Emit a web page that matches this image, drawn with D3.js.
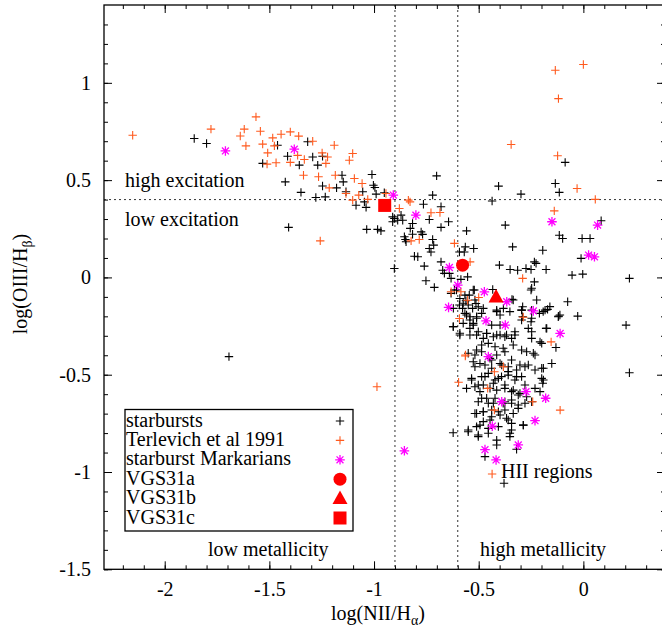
<!DOCTYPE html>
<html>
<head>
<meta charset="utf-8">
<script src="https://cdn.jsdelivr.net/npm/d3@7"></script>
<style>
  body { margin: 0; background: #fff; }
  svg { display: block; }
</style>
</head>
<body>
<svg width="662" height="632"></svg>
<script>
// tick values
const xTicks = [-2, -1.5, -1, -0.5, 0];
const yTicks = [-1.5, -1, -0.5, 0, 0.5, 1];
const xMinor = d3.range(-22, 4).map(d => d / 10);
const yMinor = d3.range(-15, 14).map(d => d / 10);

// dividing lines
const nLimits = [-0.9, -0.6];
const oLimits = [0.4];

// starbursts [log(NII/Ha), log(OIII/Hb)]
const starbursts = [
  [-1.859,0.714],[-1.800,0.688],[-1.461,0.679],[-1.317,0.697],[-1.413,0.623],[-1.532,0.586],[-1.357,0.577],
  [-1.293,0.619],[-1.246,0.623],[-1.269,0.577],[-1.424,0.491],[-1.349,0.437],[-1.246,0.470],[-1.278,0.411],
  [-1.233,0.414],[-1.179,0.460],[-1.153,0.525],[-1.147,0.491],[-1.134,0.440],[-1.054,0.440],[-1.010,0.529],
  [-1.003,0.474],[-0.990,0.428],[-1.086,0.371],[-1.046,0.388],[-1.038,0.360],[-1.408,0.257],[-1.035,0.247],
  [-0.983,0.247],[-0.967,0.239],[-0.996,0.462],[-0.951,0.435],[-0.911,0.311],[-0.855,0.209],[-0.847,0.183],
  [-1.693,-0.407],
  [-0.720,0.423],[-0.405,0.469],[-0.298,0.428],[-0.436,0.393],[-0.764,0.376],[-0.680,0.363],[-0.903,0.303],
  [-0.887,0.294],[-0.911,0.286],[-0.871,0.320],[-0.863,0.294],[-0.736,0.298],[-0.644,0.286],[-0.816,0.277],
  [-0.827,0.252],[-0.816,0.222],[-0.775,0.234],[-0.680,0.257],[-0.373,0.269],[-0.558,0.239],[-0.850,0.195],
  [-0.768,0.221],[-0.720,0.195],[-0.715,0.166],[-0.564,0.157],[-0.569,0.131],[-0.524,0.149],[-0.338,0.157],
  [-0.736,0.149],[-0.728,0.131],[-0.807,0.109],[-0.791,0.106],[-0.592,0.131],[-0.903,0.046],[-0.760,0.058],
  [-0.680,0.080],[-0.672,0.037],[-0.664,0.021],[-0.632,-0.005],[-0.640,0.021],[-0.401,0.063],[-0.350,0.041],
  [-0.314,0.037],[-0.274,0.046],[-0.553,0.003],[-0.585,-0.010],[-0.752,-0.017],[-0.712,-0.051],[-0.616,-0.065],
  [-0.632,-0.082],[-0.521,-0.065],[-0.545,-0.091],[-0.561,-0.120],[-0.433,-0.062],[-0.592,-0.142],[-0.577,-0.159],
  [-0.513,-0.134],[-0.529,-0.159],[-0.290,-0.151],[-0.341,-0.113],[-0.701,0.522],
  [-0.194,0.140],[-0.234,0.080],[-0.226,0.072],[-0.115,0.217],[-0.099,0.200],[-0.006,0.200],[0.032,0.200],
  [-0.011,0.098],[-0.178,0.041],[-0.250,0.041],[-0.054,0.012],[-0.003,0.017],[-0.234,-0.023],[0.220,-0.005],
  [-0.250,-0.065],[-0.075,-0.125],[-0.027,-0.199],[-0.118,-0.199],[-0.290,-0.202],[-0.171,-0.164],[-0.210,-0.185],
  [-0.250,-0.228],[0.204,-0.245],[-0.178,-0.262],[-0.131,-0.360],[-0.194,-0.544],[0.220,-0.490],[-0.087,0.591],
  [-0.134,0.483],[-0.115,0.437],[0.085,0.291],
  [-0.542,-0.219],[-0.526,-0.236],[-0.510,-0.202],[-0.502,-0.151],[-0.558,-0.193],[-0.414,-0.168],[-0.398,-0.193],
  [-0.351,-0.176],[-0.295,-0.168],[-0.247,-0.168],[-0.192,-0.176],[-0.112,-0.193],[-0.622,-0.253],[-0.622,-0.798],
  [-0.470,-0.921],[-0.379,-1.058],[-0.319,-0.883],
  [-0.590,-0.287],[-0.542,-0.296],[-0.502,-0.279],[-0.462,-0.287],[-0.414,-0.296],[-0.375,-0.305],[-0.327,-0.296],
  [-0.247,-0.279],[-0.199,-0.339],[-0.151,-0.442],[-0.550,-0.390],[-0.510,-0.373],[-0.486,-0.347],[-0.454,-0.339],
  [-0.422,-0.356],[-0.383,-0.364],[-0.335,-0.347],[-0.295,-0.373],[-0.239,-0.390],[-0.526,-0.433],[-0.494,-0.442],
  [-0.438,-0.424],[-0.398,-0.442],[-0.359,-0.459],[-0.319,-0.476],[-0.279,-0.459],[-0.231,-0.476],[-0.191,-0.467],
  [-0.534,-0.527],[-0.486,-0.510],[-0.454,-0.493],[-0.422,-0.527],[-0.391,-0.510],[-0.359,-0.502],[-0.327,-0.527],
  [-0.295,-0.510],[-0.191,-0.527],[-0.558,-0.570],[-0.518,-0.562],[-0.478,-0.553],[-0.446,-0.570],[-0.414,-0.579],
  [-0.375,-0.570],[-0.335,-0.579],[-0.303,-0.596],[-0.271,-0.613],[-0.207,-0.587],[-0.502,-0.639],[-0.462,-0.621],
  [-0.430,-0.647],[-0.383,-0.647],[-0.343,-0.630],[-0.311,-0.656],[-0.279,-0.647],[-0.518,-0.699],[-0.478,-0.690],
  [-0.438,-0.681],[-0.398,-0.707],[-0.375,-0.681],[-0.335,-0.699],[-0.287,-0.759],[-0.550,-0.784],[-0.510,-0.767],
  [-0.478,-0.741],[-0.446,-0.733],[-0.406,-0.767],[-0.359,-0.733],[-0.343,-0.784],[-0.502,-0.818],[-0.454,-0.801],
  [-0.414,-0.836],[-0.414,-0.861],[-0.351,-0.818],
  [-0.606,-0.065],[-0.566,-0.091],[-0.526,-0.065],[-0.518,-0.116],[-0.574,-0.133],[-0.590,-0.108],[-0.550,-0.142],
  [-0.621,-0.159],[-0.566,-0.185],[-0.542,-0.202],[-0.510,-0.210],[-0.486,-0.185],[-0.478,-0.159],[-0.414,-0.176],
  [-0.382,-0.159],[-0.335,-0.116],[-0.295,-0.168],[-0.247,-0.056],[-0.223,-0.116],[-0.183,-0.168],[-0.160,-0.150],
  [-0.120,-0.202],[-0.247,-0.210],[-0.295,-0.219],[-0.263,-0.262],[-0.175,-0.262],[-0.247,-0.313],[-0.207,-0.331],
  [-0.327,-0.279],[-0.343,-0.313],[-0.367,-0.296],[-0.398,-0.296],[-0.430,-0.305],[-0.462,-0.288],[-0.478,-0.313],
  [-0.510,-0.296],[-0.542,-0.262],[-0.574,-0.236],[-0.590,-0.296],[-0.621,-0.253],[-0.438,-0.245],[-0.398,-0.245],
  [-0.526,-0.245],
  [-0.518,-0.399],[-0.486,-0.382],[-0.446,-0.416],[-0.414,-0.399],[-0.375,-0.382],[-0.343,-0.424],[-0.303,-0.450],
  [-0.271,-0.382],[-0.231,-0.399],[-0.199,-0.467],[-0.534,-0.519],[-0.502,-0.553],[-0.470,-0.510],[-0.430,-0.544],
  [-0.406,-0.519],[-0.375,-0.553],[-0.343,-0.587],[-0.311,-0.604],[-0.247,-0.639],[-0.199,-0.519],[-0.486,-0.621],
  [-0.454,-0.647],[-0.422,-0.621],[-0.375,-0.639],[-0.343,-0.647],[-0.311,-0.673],[-0.478,-0.690],[-0.438,-0.716],
  [-0.406,-0.690],[-0.367,-0.724],[-0.343,-0.750],[-0.510,-0.699],[-0.494,-0.759],[-0.454,-0.776],[-0.550,-0.793],
  [-0.502,-0.810],[-0.351,-0.801],[-0.287,-0.759],[-0.263,-0.450],[-0.359,-0.484],[-0.438,-0.467],[-0.470,-0.450],
  [-0.390,-0.450],[-0.319,-0.510],[-0.279,-0.553],[-0.231,-0.570],[-0.518,-0.459],[-0.494,-0.587]
];

// Terlevich et al 1991
const terlevich = [
  [-2.153,0.731],[-1.564,0.825],[-1.779,0.762],[-1.620,0.762],[-1.639,0.727],[-1.543,0.751],[-1.612,0.676],
  [-1.532,0.685],[-1.484,0.717],[-1.444,0.736],[-1.400,0.748],[-1.360,0.726],[-1.508,0.640],[-1.476,0.676],
  [-1.511,0.582],[-1.468,0.589],[-1.400,0.591],[-1.365,0.627],[-1.333,0.606],[-1.293,0.700],[-1.337,0.525],
  [-1.265,0.517],[-1.248,0.640],[-1.222,0.619],[-1.230,0.586],[-1.190,0.679],[-1.185,0.525],[-1.118,0.602],
  [-1.102,0.637],[-1.094,0.508],[-1.214,0.460],[-1.134,0.431],[-1.057,0.483],[-1.102,0.397],[-1.073,0.423],
  [-1.030,0.401],[-0.943,0.431],[-1.257,0.188],
  [-0.134,1.065],[0.000,1.094],[-0.119,0.919],[-0.345,0.683],[-0.123,0.625],[-0.030,0.457],[0.057,0.401],
  [-0.139,0.342],
  [-0.879,0.354],[-0.836,0.397],[-0.828,0.388],[-0.728,0.332],[-0.685,0.334],[-0.823,0.188],[-0.784,0.195],
  [-0.616,0.175],[-0.541,0.080],[-0.290,-0.005],[-0.632,-0.074],[-0.585,-0.074],[-0.553,-0.117],[-0.500,-0.103],
  [-0.592,-0.211],[-0.564,-0.404],[-0.596,-0.539],[-0.154,-0.331],[-0.111,-0.682],[-0.242,-0.639],[-0.287,-0.205],
  [-0.382,-0.459],[-0.425,-0.485],[-0.457,-0.570],[-0.425,-0.682],[-0.436,-1.010],[-0.986,-0.562],[-0.563,-0.399]
];

// starburst Markarians
const markarians = [
  [-1.710,0.650],[-1.381,0.659],[-0.908,0.423],[-0.800,0.320],[-0.640,0.051],[-0.600,-0.040],[-0.473,-0.074],
  [-0.366,-0.125],[-0.644,-0.154],[-0.150,0.286],[0.068,0.269],[0.025,0.115],[0.053,0.106],[-0.239,-0.172],
  [-0.111,-0.288],[-0.373,-0.245],[-0.465,-0.223],[-0.454,-0.407],[-0.274,-0.587],[-0.390,-0.639],[-0.180,-0.621],
  [-0.231,-0.736],[-0.435,-0.764],[-0.311,-0.861],[-0.470,-0.885],[-0.417,-0.938],[-0.855,-0.891]
];

// VGS31 components
const vgsNames = ['VGS31a', 'VGS31b', 'VGS31c'];
const vgsPoints = [[-0.577, 0.063], [-0.417, -0.100], [-0.949, 0.370]];

const BLACK = '#000', ORANGE = '#ff5a1e', MAGENTA = '#ff00ff', RED = '#ff0000';
const FONT = '"Liberation Serif", "Times New Roman", serif';

const svg = d3.select('svg');
const L = 104, R = 665, T = 5, B = 569.3;

const x = d3.scaleLinear().domain([-2.29, 0.39]).range([L, R]);
const y = d3.scaleLinear().domain([-1.5, 1.4]).range([B, T]);

function tidy(g) {
    g.select('.domain').remove();
    g.selectAll('line').attr('stroke', BLACK).attr('stroke-width', 1);
    g.selectAll('text').attr('font-family', FONT).attr('font-size', 20).attr('fill', BLACK);
}

// Оси: основные и мелкие засечки со всех четырёх сторон
svg.append('g').attr('transform', `translate(0,${B})`)
    .call(d3.axisBottom(x).tickValues(xTicks).tickSize(-8).tickPadding(13).tickFormat(d => String(d))).call(tidy);
svg.append('g').attr('transform', `translate(0,${B})`)
    .call(d3.axisBottom(x).tickValues(xMinor).tickSize(-4).tickFormat('')).call(tidy);
svg.append('g').attr('transform', `translate(0,${T})`)
    .call(d3.axisTop(x).tickValues(xTicks).tickSize(-8).tickFormat('')).call(tidy);
svg.append('g').attr('transform', `translate(0,${T})`)
    .call(d3.axisTop(x).tickValues(xMinor).tickSize(-4).tickFormat('')).call(tidy);

svg.append('g').attr('transform', `translate(${L},0)`)
    .call(d3.axisLeft(y).tickValues(yTicks).tickSize(-8).tickPadding(13).tickFormat(d => String(d))).call(tidy);
svg.append('g').attr('transform', `translate(${L},0)`)
    .call(d3.axisLeft(y).tickValues(yMinor).tickSize(-4).tickFormat('')).call(tidy);
svg.append('g').attr('transform', `translate(${R},0)`)
    .call(d3.axisRight(y).tickValues(yTicks).tickSize(-8).tickFormat('')).call(tidy);
svg.append('g').attr('transform', `translate(${R},0)`)
    .call(d3.axisRight(y).tickValues(yMinor).tickSize(-4).tickFormat('')).call(tidy);

// Пунктирные границы
svg.selectAll('.vlim').data(nLimits).enter().append('line')
    .attr('x1', d => x(d)).attr('x2', d => x(d)).attr('y1', T).attr('y2', B)
    .attr('stroke', '#333').attr('stroke-width', 1).attr('stroke-dasharray', '2,3');
svg.selectAll('.hlim').data(oLimits).enter().append('line')
    .attr('x1', L).attr('x2', R).attr('y1', d => y(d)).attr('y2', d => y(d))
    .attr('stroke', '#333').attr('stroke-width', 1).attr('stroke-dasharray', '2,3');

// Маркеры
const plusPath = s => `M${-s},0H${s}M0,${-s}V${s}`;
const starPath = s => {
    const d = s * 0.72;
    return `M${-s},0H${s}M0,${-s}V${s}M${-d},${-d}L${d},${d}M${-d},${d}L${d},${-d}`;
};

function drawMarks(data, path, color, width) {
    svg.append('g').selectAll('path').data(data).enter().append('path')
        .attr('transform', d => `translate(${x(d[0])},${y(d[1])})`)
        .attr('d', path)
        .attr('fill', 'none')
        .attr('stroke', color)
        .attr('stroke-width', width);
}

drawMarks(starbursts, plusPath(4.2), BLACK, 1.1);
drawMarks(terlevich, plusPath(4.2), ORANGE, 1.1);
drawMarks(markarians, starPath(4.8), MAGENTA, 1.3);

const vgsSymbols = [
    g => g.append('circle').attr('r', 6.5),
    g => g.append('path').attr('d', 'M0,-8L7.5,5.5L-7.5,5.5Z'),
    g => g.append('rect').attr('x', -6.5).attr('y', -6.5).attr('width', 13).attr('height', 13)
];

vgsPoints.forEach((p, i) => {
    const g = svg.append('g').attr('transform', `translate(${x(p[0])},${y(p[1])})`).attr('fill', RED);
    vgsSymbols[i](g);
});

// Рамка
svg.append('rect').attr('x', L).attr('y', T).attr('width', R - L).attr('height', B - T)
    .attr('fill', 'none').attr('stroke', BLACK).attr('stroke-width', 1.3);

// Надписи
const notes = [
    [125, 187, 'high excitation'], [125, 226, 'low excitation'],
    [208, 556, 'low metallicity'], [480, 556, 'high metallicity'], [501, 478, 'HII regions']
];
notes.forEach(n => {
    svg.append('text').attr('x', n[0]).attr('y', n[1]).text(n[2])
        .attr('font-family', FONT).attr('font-size', 20).attr('fill', BLACK);
});

// Подписи осей
const xl = svg.append('text').attr('x', 378).attr('y', 620).attr('text-anchor', 'middle')
    .attr('font-family', FONT).attr('font-size', 20);
xl.append('tspan').text('log(NII/H');
xl.append('tspan').text('α').attr('font-size', 14).attr('dy', 5);
xl.append('tspan').text(')').attr('dy', -5);

const yl = svg.append('text').attr('transform', 'translate(27,284) rotate(-90)').attr('text-anchor', 'middle')
    .attr('font-family', FONT).attr('font-size', 20);
yl.append('tspan').text('log(OIII/H');
yl.append('tspan').text('β').attr('font-size', 14).attr('dy', 5);
yl.append('tspan').text(')').attr('dy', -5);

// Легенда
const legendNames = ['starbursts', 'Terlevich et al 1991', 'starburst Markarians'].concat(vgsNames);
const leg = svg.append('g');
leg.append('rect').attr('x', 125).attr('y', 409.5).attr('width', 228).attr('height', 121.5)
    .attr('fill', '#fff').attr('stroke', BLACK).attr('stroke-width', 1.3);
legendNames.forEach((name, i) => {
    const by = 426.5 + i * 19.4;
    leg.append('text').attr('x', 126).attr('y', by).text(name)
        .attr('font-family', FONT).attr('font-size', 20).attr('fill', BLACK);
    const g = leg.append('g').attr('transform', `translate(340,${by - 5.5})`);
    if (i === 0) g.append('path').attr('d', plusPath(4.2)).attr('stroke', BLACK).attr('stroke-width', 1.1);
    else if (i === 1) g.append('path').attr('d', plusPath(4.2)).attr('stroke', ORANGE).attr('stroke-width', 1.1);
    else if (i === 2) g.append('path').attr('d', starPath(4.8)).attr('stroke', MAGENTA).attr('stroke-width', 1.3);
    else { g.attr('fill', RED); vgsSymbols[i - 3](g); }
});
</script>
</body>
</html>
